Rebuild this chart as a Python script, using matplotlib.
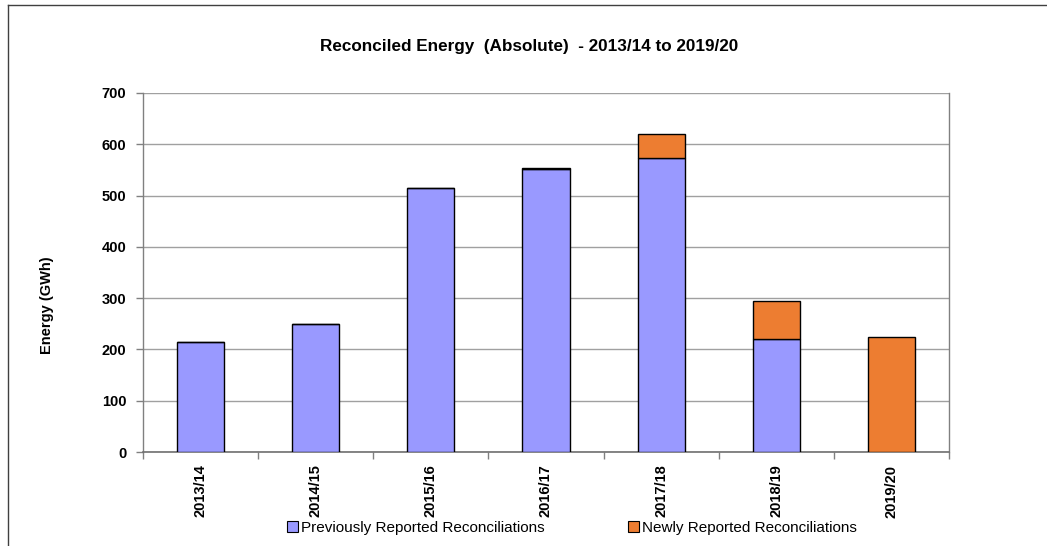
import matplotlib
matplotlib.use("Agg")
import matplotlib.pyplot as plt
from matplotlib.patches import Patch
from matplotlib.lines import Line2D
import numpy as np

categories = ["2013/14", "2014/15", "2015/16", "2016/17", "2017/18", "2018/19", "2019/20"]
previously = [215, 250, 514, 552, 573, 221, 0]
newly = [0, 0, 0, 2, 47, 74, 225]
yticks = [0, 100, 200, 300, 400, 500, 600, 700]

blue = "#9999FF"
orange = "#ED7D31"
grid_c = "#A0A0A0"

plt.rcParams['font.family'] = ['Liberation Sans', 'DejaVu Sans']

fig = plt.figure(figsize=(10.47, 5.46), dpi=100)
ax = fig.add_axes([143/1047, 1-452/546, (949-143)/1047, (452-93)/546])

x = np.arange(len(categories))
w = 0.41
ax.bar(x, previously, width=w, color=blue, edgecolor="black", linewidth=1.0, zorder=3)
ax.bar(x, newly, width=w, bottom=previously, color=orange, edgecolor="black", linewidth=1.0, zorder=3)

ax.set_xlim(-0.5, len(categories) - 0.5)
ax.set_ylim(0, 700)
ax.set_yticks(yticks)
ax.set_yticklabels([str(v) for v in yticks], fontsize=10.5, fontweight="bold")
ax.yaxis.grid(True, color=grid_c, linewidth=1.0, zorder=0)
ax.set_axisbelow(True)

ax.set_xticks(x)
ax.set_xticklabels(categories, rotation=90, fontsize=10.5, fontweight="bold", va="top")
ax.tick_params(axis="x", which="major", length=0, pad=9)
ax.set_xticks(np.arange(len(categories) + 1) - 0.5, minor=True)
ax.tick_params(axis="x", which="minor", length=5, color="#808080", width=1)
ax.tick_params(axis="y", length=5, color="#808080", width=1, pad=7)

for s in ["left", "right"]:
    ax.spines[s].set_color("#808080")
    ax.spines[s].set_linewidth(1.0)
ax.spines["bottom"].set_color("#707070")
ax.spines["bottom"].set_linewidth(1.2)
ax.spines["top"].set_visible(False)

ax.set_ylabel("Energy (GWh)", fontsize=10.5, fontweight="bold")
ax.yaxis.set_label_coords(-89/806, (452-305)/359)

fig.text(529/1047, 1-47/546, "Reconciled Energy  (Absolute)  - 2013/14 to 2019/20",
         ha="center", va="center", fontsize=12.3, fontweight="bold")

handles = [Patch(facecolor=blue, edgecolor="black", linewidth=0.8),
           Patch(facecolor=orange, edgecolor="black", linewidth=0.8)]
labels = ["Previously Reported Reconciliations", "Newly Reported Reconciliations"]
fig.legend(handles, labels, loc="center", bbox_to_anchor=(572/1047, 1-528/546), ncol=2,
           frameon=False, fontsize=11, handlelength=0.7, handleheight=0.7,
           handletextpad=0.2, columnspacing=5.5)

# outer chart frame (top and left edges visible)
fig.add_artist(Line2D([8/1047, 1.0], [1-5/546, 1-5/546], transform=fig.transFigure, color="#404040", linewidth=1.0))
fig.add_artist(Line2D([8/1047, 8/1047], [0, 1-5/546], transform=fig.transFigure, color="#404040", linewidth=1.0))

fig.savefig("out.png", dpi=100, facecolor="white")
